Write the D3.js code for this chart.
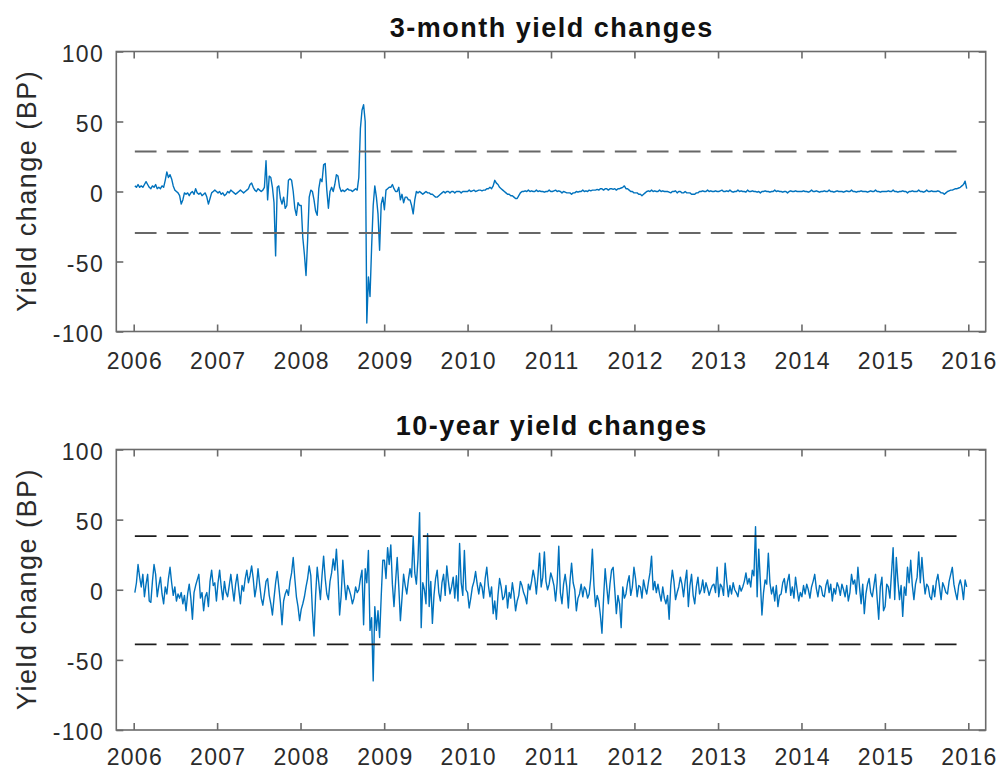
<!DOCTYPE html>
<html>
<head>
<meta charset="utf-8">
<script src="https://cdn.jsdelivr.net/npm/d3@7"></script>
<style>
  html, body { margin: 0; padding: 0; background: #fff; }
  svg { display: block; font-family: "Liberation Sans", Arial, Helvetica, sans-serif; }
</style>
</head>
<body>
<svg id="chart" width="999" height="770"></svg>
<script>
// ---- Weekly yield changes in basis points, one array per calendar year (Friday observations) ----
const years = [2006, 2007, 2008, 2009, 2010, 2011, 2012, 2013, 2014, 2015];

const threeMonth2006 = [4,3,5,3,4,3,5,7,5,3, 2,4,3,5,2,3,2,4,3,8, 14,10,12,9,4,1,0,-1,-3,-9, -6,-1,-2,-1,-3,-1,0,-2,2,-1, -2,-1,-3,-2,-1,-4,-9,-5,-1,0, 1,0];
const threeMonth2007 = [-1,0,-2,-1,-3,-2,0,-1,1,0, -1,-2,-1,0,1,0,-1,0,1,2, 5,6,3,1,0,2,1,0,1,3, 22,-6,11,10,3,-8,-46,3,4,-5, -9,-4,-12,-10,8,9,8,0,-12,-17, -8,-10];
const threeMonth2008 = [-10,-33,-45,-60,-35,-4,1,0,-6,-14, -17,2,9,7,19,20,1,-12,0,3, 0,5,12,11,3,0,1,0,1,2, 1,1,0,1,2,1,10,45,58,62, 50,-94,-61,-75,-40,-10,4,-4,-16,-42, -9,-4];
const threeMonth2009 = [-13,1,2,3,3,5,2,0,0,3, -6,-2,-8,-4,-4,-6,-6,-10,-16,-6, 0,-1,0,-1,-2,-1,0,-1,-1,-2, -2,-3,-4,-4,-3,-2,-1,0,-1,0, 0,-1,0,0,-1,0,0,0,-1,0, 0,0];
const threeMonth2010 = [0,1,0,0.5,1,0,0.5,1,1,0.5, 1,1,2,2,3,2,4,8,6,5, 3,2,1,0,-1,-2,-2,-3,-3,-4, -5,-5,-3,-1,0,0,0.5,0,1,0, 0.5,0,0,1,0,0.5,0,0,-0.5,0, 0,1,0];
const threeMonth2011 = [0,0.5,1,0,0.5,0,-1,0,-0.5,-1, -1,-1,-2,-1,-1,0,-0.5,0,0,1, 0,0.5,0,1,0.5,1,1,1,1.5,1, 2,2,1,2,2,1,2,2,1.5,2, 1,2,2,2.5,3,4,2,2,1,0, 0,-1];
const threeMonth2012 = [-1,-1,-2,-2,-3,-2,-1,0,0.5,0, 1,0,0.5,0,0,1,0,0.5,0,0, 0,-0.5,-1,0,0,0.5,-1,0,0,-1, -1,0,-1,-1,-1,-2,-2,-2,-1,-1, 0,0,0.5,0,0,1,0,0.5,0,0, 0.5,0];
const threeMonth2013 = [0,0.5,1,0,0,0.5,0,1,0,-0.5, 0,0,1,0,0.5,0,0,-0.5,1,0, 0,0.5,0,0,-0.5,0,-1,0,0,0.5, 0,0,-0.5,0,0,1,0,0.5,0,0, -0.5,0,0,-1,0,0.5,0,0,0.5,0, 0,0];
const threeMonth2014 = [0,0.5,0,0,-0.5,0,1,0,0,0.5, 0,-0.5,0,0,0.5,0,0,1,0,0, -0.5,0,0.5,0,0,0,-0.5,0,0.5,0, 0,1,0,0,-0.5,0,0,0.5,0,0, 0,-0.5,0,0.5,0,0,1,0,0,-0.5, 0,0];
const threeMonth2015 = [0,0,0.5,0,0,1,0,0,-0.5,0, 0,0.5,0,0,-1,0,0,0.5,0,0, 0,1,0,0,-0.5,0,1,0,0,0.5, 0,0,0,0.5,0,-1,-1,-2,-1,0, 0.5,1,1,1.5,2,2,2.5,3,4,5, 7.4,2];

const tenYear2006 = [-2,5,18,9,2,11,-5,4,11,-8, -9,6,18,11,-5,3,9,-3,-10,2, -3,8,16,5,-4,2,-8,-3,-6,-2, -10,-4,-15,-3,4,-6,-21,-2,3,7, 11,-6,-2,-15,-5,-2,-12,6,14,3, 5,-8];
const tenYear2007 = [5,14,2,-7,6,-2,-5,3,11,1, -8,4,11,0,-10,3,-1,8,14,5, 10,17,8,-5,2,15,4,-6,-11,-3, 6,8,-4,-10,-18,-6,5,13,2,-9, -25,-8,-3,0,-4,6,12,23,8,-5, -12,-22];
const tenYear2008 = [-14,-10,-5,2,8,17,10,-15,-33,-4, 16,5,-7,10,24,8,-3,-7,6,12, 22,14,29,10,-18,-4,21,5,-7,3, 0,-4,-10,-6,2,-2,0,8,14,-25, 15,5,28,-29,-20,-65,-12,-29,-15,-34, -5,21];
const tenYear2009 = [21,8,30,18,32,4,-12,6,23,2, -22,-6,11,3,-3,7,15,9,38,12, 4,22,55,-27,5,0,-10,40,-12,6, -24,-4,8,14,-2,-8,5,11,-4,17, 6,-3,2,9,-6,10,-8,33,5,-4, 28,0];
const tenYear2010 = [-2,-13,-6,2,6,13,4,-3,5,2, -6,8,16,3,-5,2,-17,-8,-21,-4, 8,2,-7,-5,3,-13,-2,-6,5,-3, -15,-8,-4,6,3,-2,-5,-10,4,0, 6,14,8,-3,10,26,2,9,27,6, 0,4,12];
const tenYear2011 = [8,3,-8,5,31,-2,-10,4,11,2, -13,6,19,5,0,-15,-6,-3,4,-5, 2,0,-6,-3,8,29,3,-12,-4,-8, -18,-31,-6,15,2,-10,4,14,16,0, -17,-4,-10,-27,2,-6,-3,5,10,-4, 2,16];
const tenYear2012 = [8,-5,3,2,-6,7,1,-3,5,12, 24,0,6,-2,4,-3,-8,2,-6,-10, -4,-21,3,14,6,-7,-2,2,9,4, -5,6,14,-12,3,11,-4,-10,2,9, -3,0,7,-2,5,1,-4,0,3,4, -2,16];
const tenYear2013 = [-5,4,2,-4,19,6,-5,3,-3,5, 0,-2,-5,3,-1,2,6,12,4,8, 2,14,10,45,-5,29,6,-18,-2,7, 4,26,5,-3,2,-8,3,-12,-4,-3, 5,8,-2,6,11,-4,2,-6,9,0, -8,-2];
const tenYear2014 = [-5,3,-3,4,0,-6,2,6,11,1, -5,3,2,-4,-5,3,7,-2,4,-8, 1,-3,5,2,-4,4,0,-5,3,-8, -2,11,4,7,-3,16,2,-10,4,-17, -3,4,8,-2,-5,3,11,-6,-21,2, 9,-15];
const tenYear2015 = [-12,4,2,-6,12,30,-7,23,6,-7, 3,-19,2,-4,16,5,21,3,-7,4, 9,27,5,23,8,-3,4,2,-5,-7, 3,-5,6,11,2,-7,5,2,-2,-3, 6,11,16,4,-2,-7,3,7,2,-7, 7,2];

const threeMonthByYear = [threeMonth2006, threeMonth2007, threeMonth2008, threeMonth2009, threeMonth2010,
                          threeMonth2011, threeMonth2012, threeMonth2013, threeMonth2014, threeMonth2015];
const tenYearByYear = [tenYear2006, tenYear2007, tenYear2008, tenYear2009, tenYear2010,
                       tenYear2011, tenYear2012, tenYear2013, tenYear2014, tenYear2015];

// Threshold levels (upper, lower) drawn as dashed reference lines
const threeMonthBands = [28.6, -29.7];
const tenYearBands = [38.3, -38.9];

// Axis ticks and text
const yTicks = [-100, -50, 0, 50, 100];
const xTickYears = [2006, 2007, 2008, 2009, 2010, 2011, 2012, 2013, 2014, 2015, 2016];
const titles = ["3-month yield changes", "10-year yield changes"];
const yLabel = "Yield change (BP)";

// ---- Build dated records: each year's values start at that year's first Friday ----
function weekly(byYear) {
  const out = [];
  years.forEach((yr, k) => {
    const first = d3.timeFriday.ceil(new Date(yr, 0, 1));
    byYear[k].forEach((v, i) => out.push({ date: d3.timeFriday.offset(first, i), value: v }));
  });
  return out;
}

const svg = d3.select("#chart");
const boxLeft = 116.3, boxRight = 985.7;
const axisColor = "#6b6b6b";
const textColor = "#2b2b2b";
const tickFont = 23, tickSpacing = 1.3;

const x = d3.scaleTime()
  .domain([new Date(2006, 0, 1), new Date(2016, 0, 1)])
  .range([133.7, 968.3]);
const xTickDates = xTickYears.map(yr => new Date(yr, 0, 1));

const panels = [
  { title: titles[0], byYear: threeMonthByYear, bands: threeMonthBands,
    bandColor: "#676767", bandWidth: 2, top: 51.5, bottom: 331.5, xLabelOffset: 37 },
  { title: titles[1], byYear: tenYearByYear, bands: tenYearBands,
    bandColor: "#1c1c1c", bandWidth: 1.8, top: 449.5, bottom: 730, xLabelOffset: 34.5 }
];

panels.forEach(p => {
  const data = weekly(p.byYear);
  const y = d3.scaleLinear().domain([-100, 100]).range([p.bottom, p.top]);
  const g = svg.append("g");

  const line = d3.line().x(d => x(d.date)).y(d => y(d.value));

  // series
  g.append("path")
    .datum(data)
    .attr("d", line)
    .attr("fill", "none")
    .attr("stroke", "#0072BD")
    .attr("stroke-width", 1.4)
    .attr("stroke-linejoin", "round");

  // dashed threshold lines across the sample period
  const firstDate = data[0].date, lastDate = data[data.length - 1].date;
  p.bands.forEach(b => {
    g.append("path")
      .datum([{ date: firstDate, value: b }, { date: lastDate, value: b }])
      .attr("d", line)
      .attr("fill", "none")
      .attr("stroke", p.bandColor)
      .attr("stroke-width", p.bandWidth)
      .attr("stroke-dasharray", "21.7,10.3");
  });

  // axes box
  g.append("rect")
    .attr("x", boxLeft).attr("y", p.top)
    .attr("width", boxRight - boxLeft).attr("height", p.bottom - p.top)
    .attr("fill", "none")
    .attr("stroke", axisColor)
    .attr("stroke-width", 1.6);

  const styleAxis = sel => {
    sel.select(".domain").remove();
    sel.selectAll(".tick line").attr("stroke", axisColor).attr("stroke-width", 1.6);
    sel.attr("font-family", null).attr("font-size", null);
    sel.selectAll("text")
      .attr("fill", textColor)
      .style("font-size", tickFont + "px")
      .style("letter-spacing", tickSpacing + "px");
  };

  // bottom axis with year labels, ticks pointing inward
  g.append("g")
    .attr("transform", `translate(0,${p.bottom})`)
    .call(d3.axisBottom(x).tickValues(xTickDates).tickFormat(d3.timeFormat("%Y"))
      .tickSizeInner(-7).tickSizeOuter(0))
    .call(styleAxis)
    .call(a => a.selectAll("text").attr("y", p.xLabelOffset).attr("dy", null).attr("dx", tickSpacing / 2));

  // top axis: mirrored ticks only
  g.append("g")
    .attr("transform", `translate(0,${p.top})`)
    .call(d3.axisTop(x).tickValues(xTickDates).tickFormat(() => "")
      .tickSizeInner(-7).tickSizeOuter(0))
    .call(styleAxis);

  // left axis with values (plain hyphen for negatives)
  g.append("g")
    .attr("transform", `translate(${boxLeft},0)`)
    .call(d3.axisLeft(y).tickValues(yTicks).tickFormat(d => String(d))
      .tickSizeInner(-7).tickSizeOuter(0))
    .call(styleAxis)
    .call(a => a.selectAll("text").attr("x", -12.3).attr("dy", "0.43em").attr("text-anchor", "end"));

  // right axis: mirrored ticks only
  g.append("g")
    .attr("transform", `translate(${boxRight},0)`)
    .call(d3.axisRight(y).tickValues(yTicks).tickFormat(() => "")
      .tickSizeInner(-7).tickSizeOuter(0))
    .call(styleAxis);

  // title
  g.append("text")
    .attr("x", (boxLeft + boxRight) / 2)
    .attr("y", p.top - 14.5)
    .attr("dx", 0.75)
    .attr("text-anchor", "middle")
    .attr("fill", "#111")
    .style("font-size", "27px")
    .style("font-weight", "bold")
    .style("letter-spacing", "1.5px")
    .text(p.title);

  // y-axis label
  g.append("text")
    .attr("transform", `translate(36,${(p.top + p.bottom) / 2}) rotate(-90)`)
    .attr("text-anchor", "middle")
    .attr("dx", 0.75)
    .attr("fill", textColor)
    .style("font-size", "27px")
    .style("letter-spacing", "1.5px")
    .text(yLabel);
});
</script>
</body>
</html>
